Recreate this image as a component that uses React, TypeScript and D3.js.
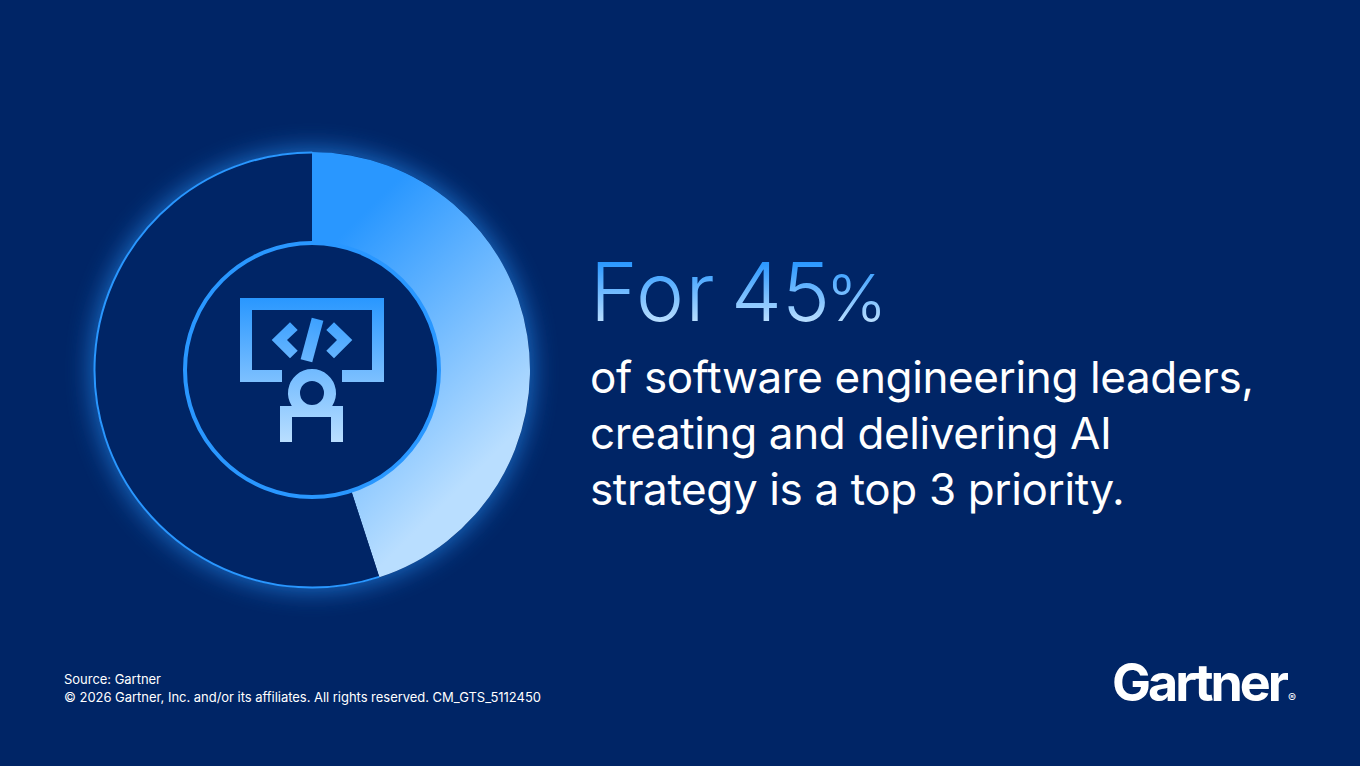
import React from 'react';
import * as d3 from 'd3';

// Share of leaders from the headline, and the remainder of the ring
const segmentNames = ['Top 3 priority', 'Other'];
const segmentValues = [45, 55];
const headlineWord = 'For';
const headlineNumber = '45';
const headlineUnit = '%';
const bodyLines = [
  'of software engineering leaders,',
  'creating and delivering AI',
  'strategy is a top 3 priority.',
];
const footerLines = [
  'Source: Gartner',
  '© 2026 Gartner, Inc. and/or its affiliates. All rights reserved. CM_GTS_5112450',
];

const WIDTH = 1360;
const HEIGHT = 766;
const CX = 312;
const CY = 370;
const OUTER = 218;
const INNER = 127;
const BG = '#002566';
const BLUE = '#2997ff';
const PALE = '#b9deff';
const FONT = 'Inter, sans-serif';

export default function App() {
  const pie = d3.pie<number>().sort(null)(segmentValues);
  const arc = d3.arc<d3.PieArcDatum<number>>().innerRadius(INNER).outerRadius(OUTER);
  const ringR = OUTER - 0.5;
  const ringLen = 2 * Math.PI * ringR;

  return (
    <svg
      width={WIDTH}
      height={HEIGHT}
      viewBox={`0 0 ${WIDTH} ${HEIGHT}`}
      style={{ position: 'fixed', left: 0, top: 0, display: 'block' }}
    >
      <defs>
        <linearGradient id="wedge" gradientUnits="userSpaceOnUse" x1={45} y1={-150} x2={230} y2={37}>
          <stop offset="0" stopColor={BLUE} />
          <stop offset="1" stopColor={PALE} />
        </linearGradient>
        <linearGradient id="icon" gradientUnits="userSpaceOnUse" x1={0} y1={298} x2={0} y2={442}>
          <stop offset="0" stopColor={BLUE} />
          <stop offset="1" stopColor={PALE} />
        </linearGradient>
        <linearGradient id="title" gradientUnits="userSpaceOnUse" x1={0} y1={262} x2={0} y2={322}>
          <stop offset="0" stopColor={BLUE} />
          <stop offset="1" stopColor={PALE} />
        </linearGradient>
        <filter id="glow" x="-25%" y="-25%" width="150%" height="150%">
          <feGaussianBlur stdDeviation={13} />
        </filter>
      </defs>

      <rect width={WIDTH} height={HEIGHT} fill={BG} />

      <g transform={`translate(${CX},${CY})`}>
        <circle r={OUTER + 2} fill={BLUE} opacity={0.65} filter="url(#glow)" />
        <circle r={OUTER} fill={BG} />
        {pie.map((d, i) => (
          <path key={segmentNames[i]} d={arc(d) ?? ''} fill={i === 0 ? 'url(#wedge)' : BG} />
        ))}
        <circle
          r={ringR}
          fill="none"
          stroke={BLUE}
          strokeWidth={2}
          strokeDasharray={`${ringLen * 0.55} ${ringLen * 0.45}`}
          transform="rotate(72)"
        />
        <circle r={INNER} fill={BG} stroke={BLUE} strokeWidth={4} />
      </g>

      {/* developer icon */}
      <g fill="url(#icon)">
        <path d="M240 298H384V382H342V370H372V310H252V370H282V382H240Z" />
        <path d="M290 322.3L271.7 340L290 358.3L297.7 350.7L287 340L297.7 330Z" />
        <path d="M334 322.3L352.3 340L334 358.3L326.3 350.7L337 340L326.3 330Z" />
        <rect x={306} y={318.5} width={12} height={43} transform="rotate(15 312 340)" />
        <path
          fillRule="evenodd"
          d="M291.8 406A24 24 0 1 1 332.2 406H343V442H331V417H292V442H280V406ZM312 381A12 12 0 1 0 312 405A12 12 0 1 0 312 381Z"
        />
      </g>

      <text y={321} fontFamily={FONT} fontWeight={300} fontSize={81} fill="url(#title)">
        <tspan x={590} letterSpacing={1.5}>{headlineWord}</tspan>
        <tspan x={731}>{headlineNumber}</tspan>
        <tspan x={826} fontSize={65}>{headlineUnit}</tspan>
      </text>

      {bodyLines.map((line, i) => (
        <text key={line} x={590} y={393 + i * 56} fontFamily={FONT} fontWeight={400} fontSize={44} letterSpacing={-0.37} fill="#ffffff">{line}</text>
      ))}

      {footerLines.map((line, i) => (
        <text key={line} x={64} y={684 + i * 18} fontFamily={FONT} fontSize={13} letterSpacing={-0.03} fill="#ffffff">{line}</text>
      ))}

      <text x={1112} y={701} fontFamily={FONT} fontWeight={700} fontSize={52} letterSpacing={-3} fill="#ffffff">Gartner</text>
      <text x={1288} y={702} fontFamily={FONT} fontSize={12} fill="#ffffff">®</text>
    </svg>
  );
}
